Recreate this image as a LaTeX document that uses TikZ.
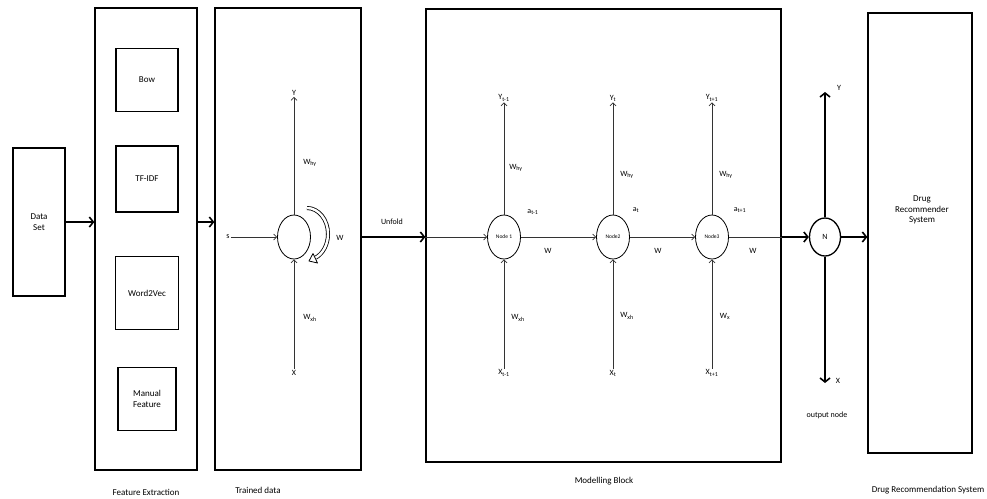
\documentclass[tikz,border=0pt]{standalone}
\usepackage{fontspec}
\setmainfont{Carlito}
\usetikzlibrary{arrows.meta,positioning,shapes.geometric}

\begin{document}
\begin{tikzpicture}[x=1pt,y=-1pt,
  box/.style={draw,line width=1.3pt,inner sep=0pt,align=center,font=\fontsize{9}{10.5}\selectfont},
  cell/.style={draw,ellipse,line width=0.8pt,minimum width=33pt,minimum height=44pt,inner sep=0pt,font=\fontsize{5.5}{6}\selectfont},
  flow/.style={draw=black!80,line width=0.7pt,-{Straight Barb[length=3pt,width=6pt]}},
  mainflow/.style={line width=1.6pt,-{Straight Barb[length=4pt,width=10pt]}},
  lbl/.style={font=\fontsize{8}{9}\selectfont,inner sep=1pt},
  blocktitle/.style={font=\fontsize{9}{10}\selectfont}]
  \useasboundingbox (0,0) rectangle (987,498);
  % input and feature extraction
  \node[box,minimum width=52pt,minimum height=148pt] (data) at (39,222) {Data\\Set};
  \node[box,minimum width=102pt,minimum height=462pt] (feat) at (146,239) {};
  \node[box,minimum width=62pt,minimum height=63pt] (bow) at (147,80) {Bow};
  \node[box,minimum width=62pt,minimum height=66pt] (tfidf) at (147,179) {TF-IDF};
  \node[box,minimum width=63pt,minimum height=73pt] (wvec) at (147,293) {Word2Vec};
  \node[box,minimum width=58pt,minimum height=63pt] (manual) at (147,399) {Manual\\Feature};
  \node[blocktitle] (featlbl) at (146,492) {Feature Extraction};
  \draw[mainflow] (data.east) -- (data.east -| feat.west);
  % trained data
  \node[box,minimum width=146pt,minimum height=462pt] (train) at (288,239) {};
  \node[blocktitle] (trainlbl) at (258,490) {Trained data};
  \draw[mainflow] (feat.east |- data.east) -- (train.west |- data.east);
  \node[cell] (h) at (294,237) {};
  \node[lbl] (y) at (294,93) {Y};
  \node[lbl] (x) at (294,373) {X};
  \node[lbl] (s) at (228,237) {s};
  \draw[flow] (h.north) -- (y.south);
  \draw[flow] (x.north) -- (h.south);
  \draw[flow] (s.east) -- (h.west);
  \node[lbl] (why0) at (310,163) {W\textsubscript{hy}};
  \node[lbl] (wxh0) at (310,318) {W\textsubscript{xh}};
  \draw[line width=4pt] (307,208) arc[start angle=-90,end angle=66,x radius=21,y radius=26];
  \draw[white,line width=2.4pt] (307,208) arc[start angle=-90,end angle=67,x radius=21,y radius=26];
  \draw[line width=0.8pt,fill=white,line join=round] (309,261) -- (317.5,263) -- (313,253.5) -- cycle; % loop tip
  \node[lbl] (wloop) at (340,238) {W};
  % modelling block
  \node[box,minimum width=355pt,minimum height=453pt] (model) at (603.5,235.5) {};
  \node[blocktitle] (modellbl) at (604,481) {Modelling Block};
  \draw[mainflow] (train.east |- 0,237) -- (model.west |- 0,237);
  \node[lbl] (unfold) at (392,222) {Unfold};
  \node[cell] (n1) at (504,237) {Node 1};
  \node[cell] (n2) at (613,237) {Node2};
  \node[cell] (n3) at (712,237) {Node3};
  \node[lbl] (y1) at (504,98) {Y\textsubscript{t-1}};
  \node[lbl] (y2) at (613,98) {Y\textsubscript{t}};
  \node[lbl] (y3) at (712,98) {Y\textsubscript{t+1}};
  \node[lbl] (x1) at (504,373) {X\textsubscript{t-1}};
  \node[lbl] (x2) at (613,373) {X\textsubscript{t}};
  \node[lbl] (x3) at (712,373) {X\textsubscript{t+1}};
  \draw[flow] (n1.north) -- (y1.south); \draw[flow] (x1.north) -- (n1.south);
  \draw[flow] (n2.north) -- (y2.south); \draw[flow] (x2.north) -- (n2.south);
  \draw[flow] (n3.north) -- (y3.south); \draw[flow] (x3.north) -- (n3.south);
  \draw[flow] (model.west |- n1.west) -- (n1.west);
  \draw[flow] (n1.east) -- (n2.west);
  \draw[flow] (n2.east) -- (n3.west);
  \draw[draw=black!80,line width=0.7pt] (n3.east) -- (model.east |- n3.east);
  \node[lbl] (why1) at (516,168) {W\textsubscript{hy}};
  \node[lbl] (why2) at (627,175) {W\textsubscript{hy}};
  \node[lbl] (why3) at (726,175) {W\textsubscript{hy}};
  \node[lbl] (wxh1) at (518,318) {W\textsubscript{xh}};
  \node[lbl] (wxh2) at (627,316) {W\textsubscript{xh}};
  \node[lbl] (wx3) at (725,316) {W\textsubscript{x}};
  \node[lbl] (a1) at (533,212) {a\textsubscript{t-1}};
  \node[lbl] (a2) at (636,210) {a\textsubscript{t}};
  \node[lbl] (a3) at (740,210) {a\textsubscript{t+1}};
  \node[lbl] (w1) at (548,251) {W};
  \node[lbl] (w2) at (658,251) {W};
  \node[lbl] (w3) at (753,251) {W};
  % output node and recommender
  \node[draw,ellipse,line width=1.3pt,minimum width=31pt,minimum height=38pt,inner sep=0pt,lbl] (out) at (825,237) {N};
  \coordinate (ytop) at (825,92);
  \coordinate (xbot) at (825,383);
  \draw[mainflow] (model.east |- out.west) -- (out.west);
  \draw[mainflow] (out.north) -- (ytop);
  \draw[mainflow] (out.south) -- (xbot);
  \node[lbl] (ylab) at (839,88) {Y};
  \node[lbl] (xlab) at (838,381) {X};
  \node[lbl] (outlbl) at (827,415) {output node};
  \node[box,minimum width=104pt,minimum height=440pt] (drug) at (920,233) {};
  \node[align=center,font=\fontsize{9}{10.5}\selectfont] (drugtxt) at (922,210) {Drug\\Recommender\\System};
  \draw[mainflow] (out.east) -- (drug.west |- out.east);
  \node[blocktitle] (druglbl) at (928,490) {Drug Recommendation System};
\end{tikzpicture}
\end{document}
